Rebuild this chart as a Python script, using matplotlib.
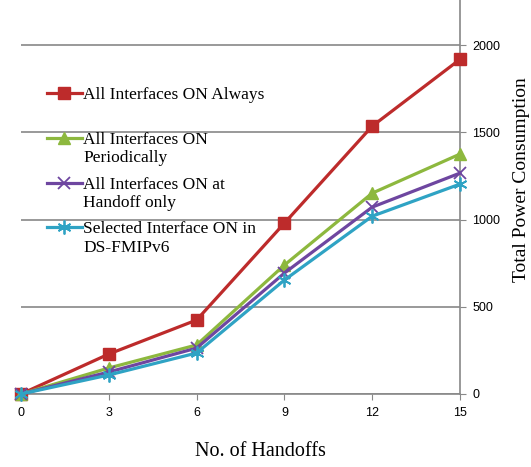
import matplotlib
matplotlib.use('Agg')
import matplotlib.pyplot as plt

# values
handoffs = [0, 3, 6, 9, 12, 15]
always_on = [0, 229, 424, 979, 1535, 1918]
periodic = [0, 149, 281, 739, 1151, 1375]
at_handoff = [0, 126, 263, 693, 1071, 1266]
selected = [0, 109, 235, 653, 1019, 1203]

labels = ['All Interfaces ON Always\n ',
          'All Interfaces ON\nPeriodically',
          'All Interfaces ON at\nHandoff only',
          'Selected Interface ON in\nDS-FMIPv6']
yticks = [0, 500, 1000, 1500, 2000]

W, H = 531, 467
fig = plt.figure(figsize=(W / 100, H / 100), dpi=100)
ax = fig.add_axes([21 / W, 1 - 394 / H, (460 - 21) / W, 394 / H])

ax.plot(handoffs, always_on, color='#BD2B2B', lw=2.3, marker='s', ms=9, label=labels[0], clip_on=False, zorder=3)
ax.plot(handoffs, periodic, color='#8DB83E', lw=2.3, marker='^', ms=9, label=labels[1], clip_on=False, zorder=3)
ax.plot(handoffs, at_handoff, color='#6E46A0', lw=2.3, marker='x', ms=9, mew=1.3, label=labels[2], clip_on=False, zorder=3)
ax.plot(handoffs, selected, color='#2FA3C4', lw=2.3, marker=(6, 2, 0), ms=10, mew=1.3, label=labels[3], clip_on=False, zorder=3)

ax.set_xlim(0, 15)
ax.set_ylim(0, 2258)
ax.set_xticks(handoffs)
ax.set_yticks(yticks)
ax.yaxis.tick_right()
for s in ['top', 'left']:
    ax.spines[s].set_visible(False)
for s in ['right', 'bottom']:
    ax.spines[s].set_color('#888888')
    ax.spines[s].set_linewidth(1.2)
ax.grid(axis='y', color='#888888', lw=1.2)
ax.set_axisbelow(True)
ax.tick_params(axis='x', length=4, color='#888888', labelsize=9, pad=5)
ax.tick_params(axis='y', length=4, color='#888888', labelsize=9, pad=5)
for t in ax.get_xticklabels() + ax.get_yticklabels():
    t.set_fontfamily('Liberation Sans')

leg = ax.legend(loc='upper left', bbox_to_anchor=(40 / W, 1 - 80 / H), bbox_transform=fig.transFigure,
                frameon=False, prop={'family': 'Liberation Serif', 'size': 12.5},
                handlelength=2.0, handletextpad=0.1, labelspacing=0.6, borderaxespad=0)
for col in leg._legend_handle_box.get_children():
    for item in col.get_children():
        item.align = 'top'

fig.text(260 / W, 1 - 451 / H, 'No. of Handoffs', ha='center', va='center',
         family='Liberation Serif', fontsize=14.5)
fig.text(522 / W, 1 - 180 / H, 'Total Power Consumption', ha='center', va='center',
         rotation=90, family='Liberation Serif', fontsize=14)

fig.savefig('out.png', dpi=100)
